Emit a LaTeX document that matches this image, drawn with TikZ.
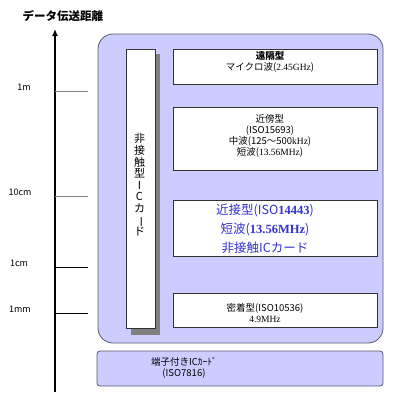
\documentclass[tikz,border=0pt]{standalone}
\usepackage{fontspec}
\setmainfont{Noto Sans CJK JP}
\newfontfamily\numfont{Liberation Serif}
\usetikzlibrary{arrows.meta}
\definecolor{lavender}{RGB}{204,204,255}
\definecolor{cardblue}{RGB}{51,51,204}
\definecolor{rimgray}{RGB}{90,90,110}
\tikzset{
  typebox/.style={draw=black!80,fill=white,line width=0.8pt},
  groupbox/.style={draw=rimgray,fill=lavender,line width=0.8pt},
  ticklabel/.style={font=\fontsize{9}{9}\selectfont,anchor=center},
  boxtext/.style={align=center,font=\fontsize{9.5}{11.3}\selectfont}
}
\newcommand{\rn}[1]{{\numfont #1}}
\begin{document}
\begin{tikzpicture}[x=1pt,y=-1pt]
    \useasboundingbox (0,0) rectangle (400,400);
    \coordinate (AxisMin) at (55,392);
    \coordinate (AxisMax) at (55,29);

    % the axis and its ticks
    \node[font=\bfseries\fontsize{11.5}{12}\selectfont] (title) at (63,16) {データ伝送距離};
    \draw[line width=1.6pt,-{Latex[length=7pt,width=6pt]}] (AxisMin) -- (AxisMax);
    \foreach \y/\lab/\col/\lx in {91/1m/gray/24, 196/10cm/gray/20, 267/1cm/black/19, 313/1mm/black/20}{%
      \coordinate (tick\lab) at (55,\y);
      \coordinate (tickend\lab) at (88,\y);
      \draw[\col,line width=1pt] (tick\lab) -- (tickend\lab);
      \node[ticklabel] (label\lab) at (\lx,\y-4) {\lab};
    }

    % non-contact group
    \draw[groupbox,rounded corners=15pt] (98,34) rectangle (383,343);
    \fill[gray] (131,54) rectangle (160,335);
    \draw[typebox] (126,49) rectangle (155,328);
    \node[align=center,font=\fontsize{11}{11.6}\selectfont] (noncontact) at (139.5,185)
      {非\\接\\触\\型\\I\\C\\カ\\\rotatebox[origin=c]{-90}{ー}\\ド};

    \draw[typebox] (173,49) rectangle (377,84);
    \node[boxtext] (remote) at (270,62) {\textbf{遠隔型}\\マイクロ波(\rn{2.45GHz})};
    \draw[typebox] (173,107) rectangle (377,170);
    \node[boxtext] (vicinity) at (270,136)
      {近傍型\\(ISO15693)\\中波(125〜500\rn{kHz})\\短波(\rn{13.56MHz})};
    \draw[typebox] (173,200) rectangle (377,256);
    \node[boxtext,text=cardblue,font=\fontsize{12.5}{19}\selectfont] (proximity) at (265,229)
      {近接型(ISO\rn{\textbf{14443}})\\短波(\rn{\textbf{13.56MHz}})\\非接触ICカード};
    \draw[typebox] (173,293) rectangle (377,327);
    \node[boxtext,font=\fontsize{9.5}{10.5}\selectfont] (close) at (265,313)
      {密着型(ISO10536)\\\rn{4.9MHz}};

    % contact card
    \draw[groupbox,rounded corners=3pt] (97,351) rectangle (383,386);
    \node[boxtext,font=\fontsize{9.5}{11}\selectfont] (contact) at (184,367.5)
      {端子付きICｶｰﾄﾞ\\(ISO7816)};
\end{tikzpicture}
\end{document}
